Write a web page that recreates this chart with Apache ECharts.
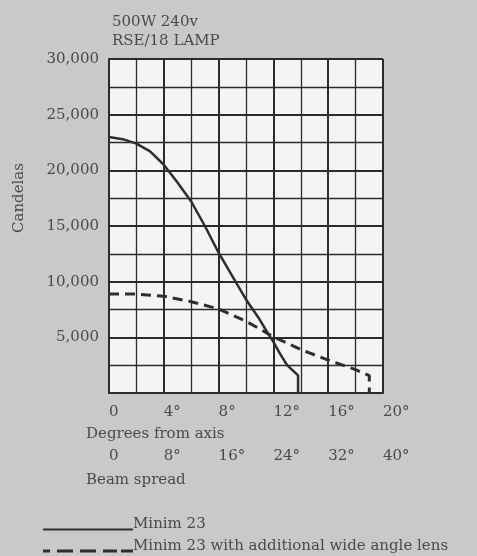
<!DOCTYPE html>
<html>
<head>
<meta charset="utf-8">
<script src="https://cdn.jsdelivr.net/npm/echarts@6/dist/echarts.min.js"></script>
<style>html,body{margin:0;padding:0;background:#c9c9c9;}#c{width:477px;height:556px;}</style>
</head>
<body>
<div id="c"></div>
<script>
// Minim 23 (solid)
var solidDeg = [0, 1, 2, 3, 4, 5, 6, 7, 8, 9, 10, 11, 11.6, 12, 12.5, 13, 13.8, 13.8];
var solidCd  = [23000, 22800, 22400, 21700, 20500, 18900, 17200, 15000, 12600, 10500, 8400, 6600, 5350, 4600, 3500, 2500, 1580, 0];
// Minim 23 with additional wide angle lens (dashed)
var lensDeg = [0, 2, 4, 6, 8, 10, 12, 14, 16, 18, 19, 19];
var lensCd  = [8900, 8880, 8700, 8200, 7550, 6450, 5050, 3900, 2950, 2100, 1550, 0];
var seriesNames = ['Minim 23', 'Minim 23 with additional wide angle lens'];
var titleLines = ['500W 240v', 'RSE/18 LAMP'];
var yName = 'Candelas';
var xName1 = 'Degrees from axis';
var xName2 = 'Beam spread';

function pairs(xs, ys) { return xs.map(function (x, i) { return [x, ys[i]]; }); }

var FONT = 'DejaVu Serif';
var TXT = '#4a4a4a';
var LINE = '#2b2b2b';
var INK = '#2e2e2e';
var degFmt = function (v) { return v === 0 ? '0' : v + '°'; };

// legend key glyphs (line sits at the text baseline)
var solidKey = 'path://M0,0H0.01V0.01H0Z M0,10H90V12H0Z';
var dashKey = 'path://M0,0H0.01V0.01H0Z M0,9H7V12H0Z M14,9H30V12H14Z M37,9H53V12H37Z M60,9H74V12H60Z M78,9H90V12H78Z';

var legendText = { fontFamily: FONT, fontSize: 15, color: TXT, padding: [0, 0, 0, -5] };

var chart = echarts.init(document.getElementById('c'));
chart.setOption({
  backgroundColor: '#c9c9c9',
  animation: false,
  textStyle: { fontFamily: FONT },
  title: [
    { text: titleLines.join('\n'), left: 107, top: 8,
      textStyle: { fontFamily: FONT, fontSize: 15, fontWeight: 'normal', color: TXT, lineHeight: 19 } },
    { text: xName1, left: 81, top: 422,
      textStyle: { fontFamily: FONT, fontSize: 15, fontWeight: 'normal', color: TXT } },
    { text: xName2, left: 81, top: 468,
      textStyle: { fontFamily: FONT, fontSize: 15, fontWeight: 'normal', color: TXT } }
  ],
  legend: [
    { left: 38, top: 512, itemWidth: 90, itemHeight: 12, textStyle: legendText,
      data: [{ name: seriesNames[0], icon: solidKey }] },
    { left: 38, top: 534, itemWidth: 90, itemHeight: 12, textStyle: legendText,
      data: [{ name: seriesNames[1], icon: dashKey }] }
  ],
  grid: { left: 109, right: 94, top: 59, bottom: 163, show: true, backgroundColor: '#f4f4f4', borderWidth: 0 },
  xAxis: [
    { type: 'value', min: 0, max: 20, interval: 4, position: 'bottom',
      axisLine: { show: true, lineStyle: { color: LINE, width: 2 } },
      axisTick: { show: false },
      axisLabel: { formatter: degFmt, color: TXT, fontFamily: FONT, fontSize: 15, margin: 12, align: 'left' },
      splitLine: { show: true, lineStyle: { color: LINE, width: 2 } },
      minorTick: { show: false, splitNumber: 2 },
      minorSplitLine: { show: true, lineStyle: { color: LINE, width: 1.3 } } },
    { type: 'value', min: 0, max: 40, interval: 8, position: 'bottom', offset: 44,
      axisLine: { show: false }, axisTick: { show: false }, splitLine: { show: false },
      axisLabel: { formatter: degFmt, color: TXT, fontFamily: FONT, fontSize: 15, margin: 12, align: 'left' } }
  ],
  yAxis: {
    type: 'value', min: 0, max: 30000, interval: 5000,
    name: yName, nameLocation: 'middle', nameGap: 82, nameRotate: 90,
    nameTextStyle: { fontFamily: FONT, fontSize: 15, color: TXT, padding: [0, 0, 0, 56] },
    axisLine: { show: true, lineStyle: { color: LINE, width: 2 } },
    axisTick: { show: false },
    axisLabel: { formatter: function (v) { return v === 0 ? '' : v.toLocaleString('en-US'); },
                 color: TXT, fontFamily: FONT, fontSize: 15, margin: 10 },
    splitLine: { show: true, lineStyle: { color: LINE, width: 2 } },
    minorTick: { show: false, splitNumber: 2 },
    minorSplitLine: { show: true, lineStyle: { color: LINE, width: 1.3 } }
  },
  series: [
    { name: seriesNames[0], type: 'line', xAxisIndex: 0, data: pairs(solidDeg, solidCd),
      symbol: 'none', lineStyle: { color: INK, width: 2.5 }, itemStyle: { color: INK } },
    { name: seriesNames[1], type: 'line', xAxisIndex: 0, data: pairs(lensDeg, lensCd),
      symbol: 'none', lineStyle: { color: INK, width: 3, type: [10, 6] }, itemStyle: { color: INK } }
  ]
});
</script>
</body>
</html>
